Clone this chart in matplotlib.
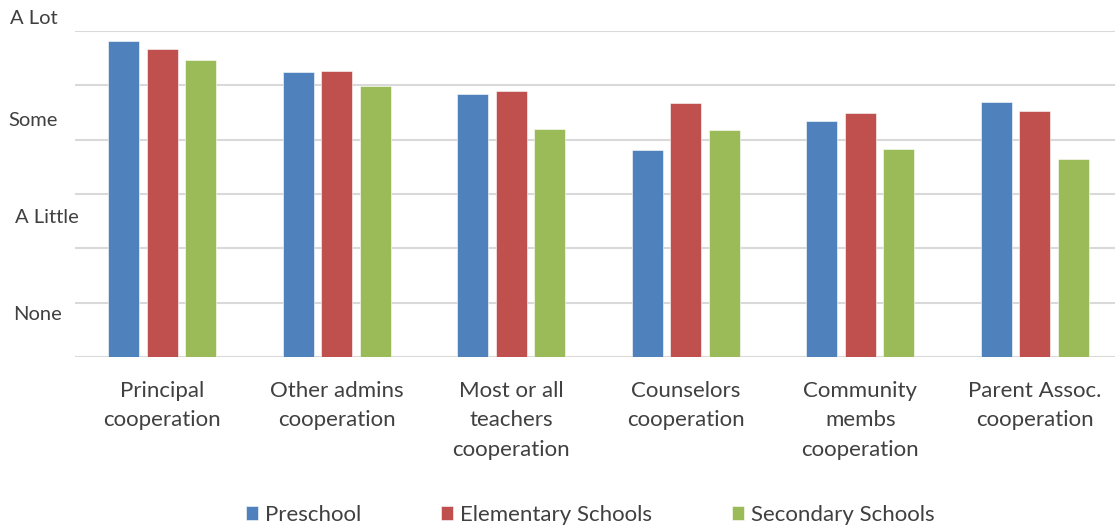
import matplotlib
matplotlib.use("Agg")
import matplotlib.pyplot as plt
import numpy as np

categories = ["Principal\ncooperation", "Other admins\ncooperation", "Most or all\nteachers\ncooperation",
              "Counselors\ncooperation", "Community\nmembs\ncooperation", "Parent Assoc.\ncooperation"]
series_names = ["Preschool", "Elementary Schools", "Secondary Schools"]
preschool = [5.82, 5.25, 4.84, 3.81, 4.34, 4.69]
elementary = [5.67, 5.26, 4.90, 4.68, 4.49, 4.53]
secondary = [5.47, 4.99, 4.20, 4.18, 3.83, 3.64]
level_labels = ["A Lot", "Some", "A Little", "None"]

colors = ["#4F81BD", "#C0504D", "#9BBB59"]
text_color = "#404040"
plt.rcParams['font.family'] = ['Lato', 'DejaVu Sans']

W, H = 1115, 529
fig = plt.figure(figsize=(W / 100, H / 100), dpi=100)
ax = fig.add_axes([75 / W, 1 - 357 / H, (1122 - 75) / W, (357 - 31) / H])

x = np.arange(len(categories))
width = 0.178
step = 0.221
for i, (vals, name) in enumerate(zip([preschool, elementary, secondary], series_names)):
    ax.bar(x + (i - 1) * step, vals, width=width, color=colors[i], label=name, zorder=3,
           edgecolor="white", linewidth=0.4)

ax.set_xlim(-0.5, len(categories) - 0.5)
ax.set_ylim(0, 6)
ax.set_yticks(np.arange(0, 7, 1))
ax.set_yticklabels([])
ax.tick_params(axis='y', length=0)
ax.grid(axis='y', color="#D9D9D9", linewidth=1.5, zorder=0)
for s in ax.spines.values():
    s.set_visible(False)
ax.set_xticks(x)
ax.set_xticklabels(categories, fontsize=16, color=text_color, linespacing=1.6)
ax.tick_params(axis='x', length=0, pad=17)

# y-axis level labels
label_pos = [(10, 18), (8, 121), (15, 218), (13, 315)]
for lab, (px, py) in zip(level_labels, label_pos):
    fig.text(px / W, 1 - py / H, lab, ha='left', va='center', fontsize=14.5, color=text_color)

handles, labels = ax.get_legend_handles_labels()
leg = fig.legend(handles, labels, loc='center', bbox_to_anchor=(590 / W, 1 - 515 / H), ncol=3,
                 frameon=False, fontsize=16, handlelength=0.55, handleheight=0.55,
                 handletextpad=0.3, columnspacing=3.6, labelcolor=text_color)

fig.savefig("out.png", dpi=100)
